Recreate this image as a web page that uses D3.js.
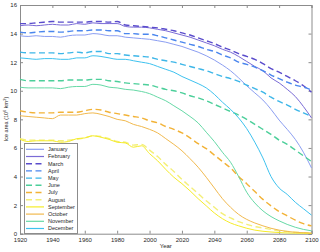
<html>
<head>
<style>
body { margin: 0; background: #fff; }
text { font-family: "Liberation Sans", Arial, sans-serif; fill: #262626; }
.axis path, .axis line { stroke: #8c8c8c; }
</style>
</head>
<body>
<svg height="252" width="320" id="container"></svg>
<script src="https://cdn.jsdelivr.net/npm/d3@7"></script>
<script>
// data, every 5 years
var years = [1920,1925,1930,1935,1940,1945,1950,1955,1960,1965,1970,1975,1980,1985,1990,1995,2000,2005,2010,
  2015,2020,2025,2030,2035,2040,2045,2050,2055,2060,2065,2070,2075,2080,2085,2090,2095,2100];
var months = ["January","February","March","April","May","June","July","August","September","October","November","December"];
var jan = [13.85,13.8,13.85,13.8,13.8,13.75,13.85,13.9,13.9,14.0,13.95,13.85,13.85,13.75,13.7,13.65,13.6,13.5,13.4,
  13.25,13.1,12.9,12.7,12.45,12.15,11.8,11.4,10.9,10.35,9.85,9.35,8.7,7.95,7.3,6.6,5.7,4.6];
var feb = [14.55,14.6,14.55,14.6,14.65,14.6,14.6,14.7,14.65,14.75,14.7,14.7,14.7,14.5,14.45,14.45,14.4,14.3,14.2,
  14.05,13.9,13.75,13.55,13.35,13.15,12.9,12.7,12.4,12.05,11.7,11.4,10.9,10.55,10.1,9.6,8.9,8.1];
var mar = [14.7,14.7,14.75,14.8,14.85,14.8,14.8,14.8,14.8,14.85,14.85,14.8,14.85,14.6,14.55,14.5,14.45,14.4,14.3,
  14.2,14.05,13.9,13.7,13.5,13.3,13.05,12.85,12.6,12.4,12.2,11.9,11.55,11.3,11.0,10.7,10.35,9.9];
var apr = [14.1,14.05,14.1,14.15,14.15,14.1,14.15,14.2,14.2,14.25,14.25,14.2,14.2,14.0,14.0,13.95,13.95,13.85,13.7,
  13.55,13.4,13.25,13.1,12.9,12.75,12.5,12.3,12.0,11.85,11.65,11.4,11.1,10.85,10.6,10.4,10.25,10.05];
var may = [12.7,12.65,12.65,12.65,12.65,12.6,12.65,12.7,12.65,12.75,12.75,12.6,12.6,12.5,12.45,12.4,12.35,12.2,12.1,
  12.0,11.85,11.7,11.55,11.4,11.2,11.0,10.85,10.65,10.4,10.15,9.9,9.55,9.25,9.0,8.7,8.45,8.2];
var jun = [10.8,10.7,10.7,10.7,10.7,10.7,10.75,10.75,10.75,10.8,10.8,10.7,10.65,10.55,10.5,10.45,10.4,10.25,10.1,
  10.0,9.85,9.65,9.5,9.3,9.05,8.8,8.55,8.3,8.0,7.65,7.3,6.95,6.55,6.25,5.85,5.45,5.05];
var jul = [8.6,8.5,8.45,8.45,8.45,8.5,8.5,8.5,8.6,8.7,8.65,8.5,8.4,8.3,8.2,8.1,7.9,7.75,7.5,
  7.3,7.05,6.7,6.3,5.95,5.5,5.05,4.6,4.0,3.5,2.95,2.4,1.95,1.55,1.25,0.95,0.7,0.55];
var aug = [6.65,6.55,6.55,6.55,6.55,6.5,6.55,6.6,6.7,6.85,6.8,6.65,6.45,6.4,6.2,6.25,5.85,5.4,4.85,
  4.35,3.8,3.3,2.8,2.3,1.85,1.4,1.1,0.85,0.65,0.5,0.4,0.3,0.2,0.15,0.1,0.07,0.05];
var sep = [6.6,6.45,6.5,6.5,6.5,6.4,6.45,6.65,6.7,6.85,6.75,6.6,6.4,6.35,6.05,6.15,5.6,5.1,4.5,
  3.95,3.5,3.0,2.45,1.95,1.45,1.05,0.75,0.55,0.38,0.25,0.17,0.12,0.08,0.05,0.04,0.03,0.02];
var oct = [8.25,8.2,8.15,8.1,8.05,8.3,8.3,8.3,8.4,8.45,8.35,8.2,8.0,7.9,7.65,7.5,7.3,7.05,6.65,
  6.25,5.8,5.25,4.65,3.95,3.2,2.45,1.85,1.35,1.0,0.75,0.55,0.38,0.25,0.16,0.1,0.07,0.05];
var nov = [10.25,10.2,10.2,10.2,10.2,10.15,10.25,10.3,10.3,10.45,10.4,10.25,10.2,10.1,10.05,9.95,9.8,9.55,9.3,
  8.95,8.6,8.2,7.75,7.1,6.45,5.7,5.0,4.0,2.9,2.15,1.6,1.2,0.9,0.65,0.45,0.3,0.2];
var dec = [12.3,12.25,12.2,12.25,12.25,12.2,12.2,12.3,12.3,12.45,12.4,12.3,12.2,12.2,12.1,12.0,11.9,11.7,11.5,
  11.3,11.0,10.75,10.5,10.2,9.75,9.2,8.7,8.1,7.35,6.4,5.3,4.0,3.2,2.75,2.2,1.75,1.3];
var xTicks = [1920,1940,1960,1980,2000,2020,2040,2060,2080,2100];
var yTicks = [0,2,4,6,8,10,12,14,16];

var series = [jan,feb,mar,apr,may,jun,jul,aug,sep,oct,nov,dec];
var color = ["#8b9ef2","#7a6bd6","#5a4ccc","#4a86ee","#3db6e8","#4ccf9a",
             "#f2b236","#f4ef78","#f5ec28","#f1b94e","#66d9a6","#3ec2ef"];
var dashed = [false,false,true,true,true,true,true,true,false,false,false,false];

var svg = d3.select("#container");
// plot box edges (pixels)
var pl = 20, pr = 311.5, pt = 5, pb = 233.7;

var x = d3.scaleLinear().domain([1920,2100]).range([pl,pr]);
var y = d3.scaleLinear().domain([0,16]).range([pb,pt]);

// box axes with inward ticks
svg.append("g").attr("class","axis").attr("transform","translate(0,"+pb+")")
   .call(d3.axisBottom(x).tickValues(xTicks).tickSize(-3).tickPadding(4).tickFormat(d3.format("d")))
   .selectAll("text").style("font-size","6px");
svg.append("g").attr("class","axis").attr("transform","translate(0,"+pt+")")
   .call(d3.axisTop(x).tickValues(xTicks).tickSize(-3).tickFormat(""));
svg.append("g").attr("class","axis").attr("transform","translate("+pl+",0)")
   .call(d3.axisLeft(y).tickValues(yTicks).tickSize(-3).tickPadding(3))
   .selectAll("text").style("font-size","6px");
svg.append("g").attr("class","axis").attr("transform","translate("+pr+",0)")
   .call(d3.axisRight(y).tickValues(yTicks).tickSize(-3).tickFormat(""));

// lines
var line = d3.line()
   .x((d,i)=> x(years[i]))
   .y((d)=> y(d))
   .curve(d3.curveMonotoneX);

svg.append("g").selectAll("path")
   .data(series)
   .enter()
   .append("path")
   .attr("d",line)
   .attr("fill","none")
   .attr("stroke",(d,i)=> color[i])
   .attr("stroke-width",(d,i)=> dashed[i] ? 1.4 : 1)
   .attr("stroke-dasharray",(d,i)=> dashed[i] ? "6,3.5" : null);

// axis titles
svg.append("text")
   .attr("x",(pl+pr)/2).attr("y",248)
   .attr("text-anchor","middle")
   .style("font-size","6px")
   .text("Year");
var ylab = svg.append("text")
   .attr("transform","translate(8,119) rotate(-90)")
   .attr("text-anchor","middle")
   .style("font-size","5.5px");
ylab.append("tspan").text("Ice area (10");
ylab.append("tspan").attr("dy","-2").style("font-size","4px").text("6");
ylab.append("tspan").attr("dy","2").text(" km");
ylab.append("tspan").attr("dy","-2").style("font-size","4px").text("2");
ylab.append("tspan").attr("dy","2").text(")");

// legend
var lg = svg.append("g");
lg.append("rect")
  .attr("x",24.5).attr("y",143.5).attr("width",53).attr("height",90)
  .attr("fill","#fff").attr("stroke","#8c8c8c").attr("stroke-width",1);
var items = lg.selectAll(".item")
  .data(months)
  .enter()
  .append("g")
  .attr("transform",(d,i)=> "translate(0,"+(149.3+i*7.2)+")");
items.append("line")
  .attr("x1",26).attr("x2",44)
  .attr("stroke",(d,i)=> color[i])
  .attr("stroke-width",(d,i)=> dashed[i] ? 1.4 : 1.2)
  .attr("stroke-dasharray",(d,i)=> dashed[i] ? "6,3.5" : null);
items.append("text")
  .attr("x",48).attr("dy","0.35em")
  .style("font-size","5.5px")
  .text((d)=> d);
</script>
</body>
</html>
